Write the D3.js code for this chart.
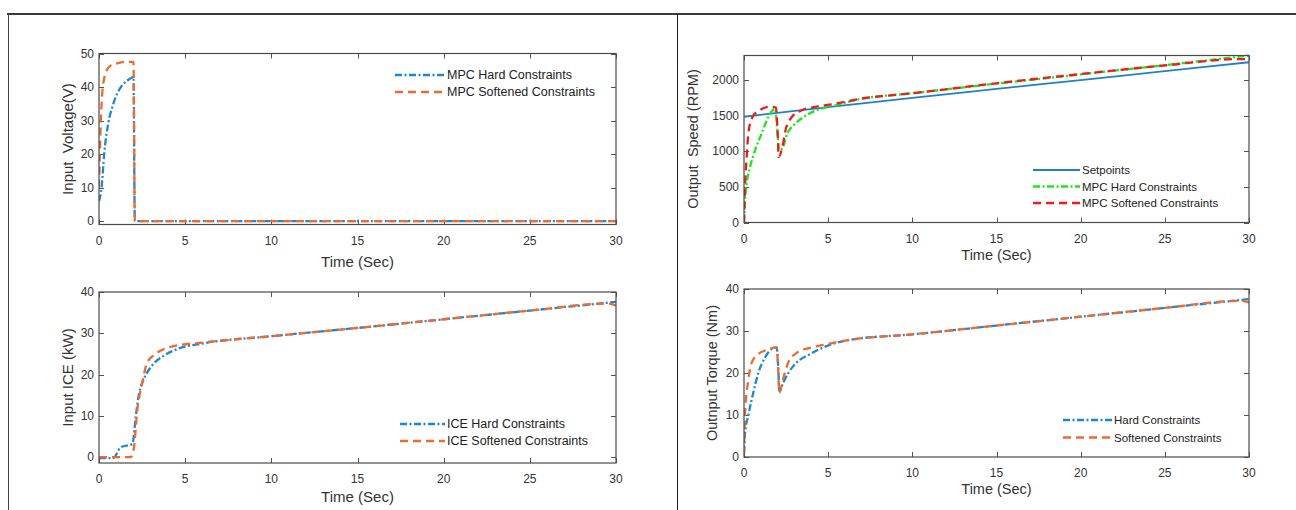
<!DOCTYPE html>
<html>
<head>
<meta charset="utf-8">
<script src="https://cdn.jsdelivr.net/npm/d3@7"></script>
<style>
  html, body { margin: 0; padding: 0; background: #fff; }
  svg text { fill: #333; white-space: pre; }
</style>
</head>
<body>
<svg id="chart" width="1296" height="510"></svg>
<script>
// ===== DATA =====
// Input voltage (V)
const tVoltHard = [0, 0.15, 0.3, 0.55, 0.8, 1.05, 1.3, 1.55, 1.8, 2.0, 2.08, 30];
const voltHard  = [6, 10, 20, 29.5, 34.5, 38, 40.2, 41.6, 42.5, 43, 0, 0];
const tVoltSoft = [0, 0.05, 0.1, 0.15, 0.2, 0.3, 0.45, 0.7, 1, 1.5, 2.0, 2.08, 30];
const voltSoft  = [10, 20, 29, 35, 39, 42.5, 45, 46.5, 47, 47.5, 47.5, 0, 0];

// Input ICE (kW)
const tIceHard = [0, 0.83, 1.26, 1.94, 2.13, 2.32, 2.61, 3.0, 3.77, 4.55, 6.1, 10, 15, 20, 25, 30];
const iceHard  = [-0.2, -0.2, 2.4, 3.2, 9.7, 15.3, 19, 21.8, 24.6, 26.2, 27.6, 29.3, 31.3, 33.4, 35.5, 37.6];
const tIceSoft = [0, 1.84, 2.03, 2.22, 2.5, 2.8, 3.28, 4.15, 6.1, 10, 15, 20, 25, 29.5, 30];
const iceSoft  = [0, 0, 2.4, 11.3, 17.8, 23, 25, 26.7, 27.8, 29.3, 31.3, 33.4, 35.5, 37.2, 36.7];

// Output speed (RPM)
const tSetpoint = [0, 5, 10, 15, 20, 25, 30];
const setpoint  = [1485, 1620, 1750, 1875, 2000, 2125, 2250];
const tSpeedHard = [0, 0.06, 0.16, 0.36, 0.66, 1.05, 1.45, 1.84, 1.98, 2.08, 2.28, 2.57, 2.97, 3.56, 4.36, 5.35, 6.73, 10, 15, 20, 25, 30];
const speedHard  = [0, 307, 545, 780, 1015, 1250, 1485, 1595, 1300, 1015, 1040, 1250, 1370, 1485, 1580, 1640, 1725, 1815, 1950, 2080, 2210, 2345];
const tSpeedSoft = [0, 0.06, 0.16, 0.26, 0.46, 0.85, 1.55, 1.9, 2.0, 2.06, 2.28, 2.47, 2.77, 3.37, 4.16, 5.35, 6.73, 10, 15, 20, 25, 29.5, 30];
const speedSoft  = [0, 500, 920, 1250, 1460, 1565, 1625, 1610, 1250, 920, 1060, 1300, 1460, 1570, 1620, 1665, 1730, 1815, 1955, 2085, 2205, 2295, 2290];

// Output torque (Nm)
const tTorqueHard = [0, 0.06, 0.26, 0.55, 0.85, 1.25, 1.64, 1.94, 2.04, 2.1, 2.33, 2.63, 3.13, 3.92, 4.71, 6.3, 10, 15, 20, 25, 30];
const torqueHard  = [1, 5.7, 10, 15.3, 20, 23.7, 25.7, 26.1, 20.9, 15.7, 17.7, 20, 22.5, 24.5, 26.1, 27.9, 29.2, 31.3, 33.4, 35.5, 37.6];
const tTorqueSoft = [0, 0.06, 0.26, 0.46, 0.85, 1.35, 1.94, 2.04, 2.1, 2.33, 2.63, 3.13, 3.92, 4.71, 6.3, 10, 15, 20, 25, 29.5, 30];
const torqueSoft  = [0.5, 10, 18.5, 22.5, 24.5, 25.5, 26.1, 20, 15.3, 18.7, 22.5, 24.8, 26, 26.7, 27.9, 29.2, 31.3, 33.4, 35.5, 37.2, 36.8];

const xTicks = [0, 5, 10, 15, 20, 25, 30];

// ===== STYLES =====
const BLUE = '#1a88d2';
const ORANGE = '#f06a30';
const GREEN = '#1ee61e';
const RED = '#f01c1c';
const SET_BLUE = '#1f80c8';
const DASH_DOT = '7 2.5 2 2.5';
const DASH = '8 5';

const zip = (ts, vs) => ts.map((t, i) => [t, vs[i]]);

const svg = d3.select('#chart');

// ===== OUTER FRAME =====
svg.append('line').attr('x1', 7).attr('x2', 1296).attr('y1', 14).attr('y2', 14)
    .attr('stroke', '#3a3a3a').attr('stroke-width', 2);
svg.append('line').attr('x1', 8.5).attr('x2', 8.5).attr('y1', 14).attr('y2', 510)
    .attr('stroke', '#444').attr('stroke-width', 1);
svg.append('line').attr('x1', 677.5).attr('x2', 677.5).attr('y1', 14).attr('y2', 510)
    .attr('stroke', '#222').attr('stroke-width', 1);

// ===== PANEL =====
function drawPanel(cfg) {
    const x = d3.scaleLinear().domain([0, 30]).range([cfg.x0, cfg.x1]);
    const y = d3.scaleLinear().domain(cfg.yDomain).range([cfg.y0, cfg.y1]);
    const font = cfg.font;
    const g = svg.append('g');

    const clipId = 'clip' + cfg.id;
    g.append('clipPath').attr('id', clipId).append('rect')
        .attr('x', cfg.x0).attr('y', cfg.y1 - 2)
        .attr('width', cfg.x1 - cfg.x0).attr('height', cfg.y0 - cfg.y1 + 2);

    // ticks (inward, all four sides)
    const tickG = g.append('g').attr('stroke', '#555').attr('stroke-width', 1);
    xTicks.forEach(t => {
        const px = Math.round(x(t)) + 0.5;
        tickG.append('line').attr('x1', px).attr('x2', px).attr('y1', cfg.y0).attr('y2', cfg.y0 - 5);
        tickG.append('line').attr('x1', px).attr('x2', px).attr('y1', cfg.y1).attr('y2', cfg.y1 + 5);
    });
    cfg.yTicks.forEach(v => {
        const py = Math.round(y(v)) + 0.5;
        tickG.append('line').attr('x1', cfg.x0).attr('x2', cfg.x0 + 5).attr('y1', py).attr('y2', py);
        tickG.append('line').attr('x1', cfg.x1).attr('x2', cfg.x1 - 5).attr('y1', py).attr('y2', py);
    });

    // tick labels
    g.append('g').selectAll('text').data(xTicks).join('text')
        .attr('x', d => x(d)).attr('y', cfg.y0 + 20)
        .attr('text-anchor', 'middle')
        .style('font-family', font).style('font-size', cfg.tickSize + 'px')
        .text(d => d);
    g.append('g').selectAll('text').data(cfg.yTicks).join('text')
        .attr('x', cfg.x0 - 5).attr('y', d => y(d) + 4)
        .attr('text-anchor', 'end')
        .style('font-family', font).style('font-size', cfg.tickSize + 'px')
        .text(d => d);

    // axis titles
    g.append('text')
        .attr('x', (cfg.x0 + cfg.x1) / 2).attr('y', cfg.xLabelY)
        .attr('text-anchor', 'middle')
        .style('font-family', font).style('font-size', cfg.labelSize + 'px')
        .text('Time (Sec)');
    g.append('text')
        .attr('transform', `translate(${cfg.yLabelX},${(cfg.y0 + cfg.y1) / 2}) rotate(-90)`)
        .attr('text-anchor', 'middle')
        .style('font-family', font).style('font-size', cfg.labelSize + 'px')
        .text(cfg.yLabel);

    // data lines
    const line = d3.line()
        .x(d => x(d[0])).y(d => y(d[1]))
        .curve(d3.curveMonotoneX);
    const plot = g.append('g').attr('clip-path', `url(#${clipId})`);
    cfg.series.forEach(s => {
        plot.append('path')
            .attr('d', line(s.data))
            .attr('fill', 'none')
            .attr('stroke', s.color)
            .attr('stroke-width', s.width)
            .attr('stroke-dasharray', s.dash || null);
    });

    // box
    g.append('rect')
        .attr('x', cfg.x0).attr('y', cfg.y1)
        .attr('width', cfg.x1 - cfg.x0).attr('height', cfg.y0 - cfg.y1)
        .attr('fill', 'none').attr('stroke', '#4a4a4a').attr('stroke-width', 1.2);

    // legend (no box)
    cfg.series.forEach((s, i) => {
        const ly = cfg.legend.y + i * cfg.legend.step;
        g.append('line')
            .attr('x1', cfg.legend.x).attr('x2', cfg.legend.x + cfg.legend.len)
            .attr('y1', ly).attr('y2', ly)
            .attr('stroke', s.color).attr('stroke-width', s.width)
            .attr('stroke-dasharray', s.dash || null);
        g.append('text')
            .attr('x', cfg.legend.x + cfg.legend.len + 2).attr('y', ly + 4)
            .style('font-family', font).style('font-size', cfg.legendSize + 'px')
            .style('fill', '#222')
            .text(s.name);
    });
}

const NARROW = "'Liberation Sans Narrow', 'Arial Narrow', 'Liberation Sans', Arial, sans-serif";
const SANS = "'Liberation Sans', Arial, sans-serif";

drawPanel({
    id: 'tl', x0: 99, x1: 616, y0: 224.5, y1: 53.5, yDomain: [-1, 50],
    yTicks: [0, 10, 20, 30, 40, 50],
    yLabel: 'Input  Voltage(V)', xLabelY: 267, yLabelX: 73,
    font: NARROW, tickSize: 12, labelSize: 15, legendSize: 12.5,
    legend: { x: 395, y: 75, step: 17, len: 50 },
    series: [
        { name: 'MPC Hard Constraints', data: zip(tVoltHard, voltHard), color: BLUE, dash: DASH_DOT, width: 2.3 },
        { name: 'MPC Softened Constraints', data: zip(tVoltSoft, voltSoft), color: ORANGE, dash: DASH, width: 2.3 }
    ]
});

drawPanel({
    id: 'bl', x0: 99, x1: 616, y0: 463, y1: 292, yDomain: [-1.4, 40],
    yTicks: [0, 10, 20, 30, 40],
    yLabel: 'Input ICE (kW)', xLabelY: 502, yLabelX: 73,
    font: NARROW, tickSize: 12, labelSize: 15, legendSize: 12.5,
    legend: { x: 400, y: 424, step: 17, len: 45 },
    series: [
        { name: 'ICE Hard Constraints', data: zip(tIceHard, iceHard), color: BLUE, dash: DASH_DOT, width: 2.3 },
        { name: 'ICE Softened Constraints', data: zip(tIceSoft, iceSoft), color: ORANGE, dash: DASH, width: 2.3 }
    ]
});

drawPanel({
    id: 'tr', x0: 744, x1: 1249, y0: 222.5, y1: 55.5, yDomain: [0, 2345],
    yTicks: [0, 500, 1000, 1500, 2000],
    yLabel: 'Output  Speed (RPM)', xLabelY: 260, yLabelX: 698,
    font: SANS, tickSize: 12, labelSize: 14.5, legendSize: 11.5,
    legend: { x: 1033, y: 170, step: 16.5, len: 47 },
    series: [
        { name: 'Setpoints', data: zip(tSetpoint, setpoint), color: SET_BLUE, dash: null, width: 1.8 },
        { name: 'MPC Hard Constraints', data: zip(tSpeedHard, speedHard), color: GREEN, dash: DASH_DOT, width: 2.3 },
        { name: 'MPC Softened Constraints', data: zip(tSpeedSoft, speedSoft), color: RED, dash: DASH, width: 2.3 }
    ]
});

drawPanel({
    id: 'br', x0: 744, x1: 1249, y0: 457, y1: 289, yDomain: [0, 40],
    yTicks: [0, 10, 20, 30, 40],
    yLabel: 'Outnput Torque (Nm)', xLabelY: 494, yLabelX: 717,
    font: SANS, tickSize: 12, labelSize: 14.5, legendSize: 11.5,
    legend: { x: 1063, y: 420, step: 17.5, len: 49 },
    series: [
        { name: 'Hard Constraints', data: zip(tTorqueHard, torqueHard), color: BLUE, dash: DASH_DOT, width: 2.3 },
        { name: 'Softened Constraints', data: zip(tTorqueSoft, torqueSoft), color: ORANGE, dash: DASH, width: 2.3 }
    ]
});
</script>
</body>
</html>
